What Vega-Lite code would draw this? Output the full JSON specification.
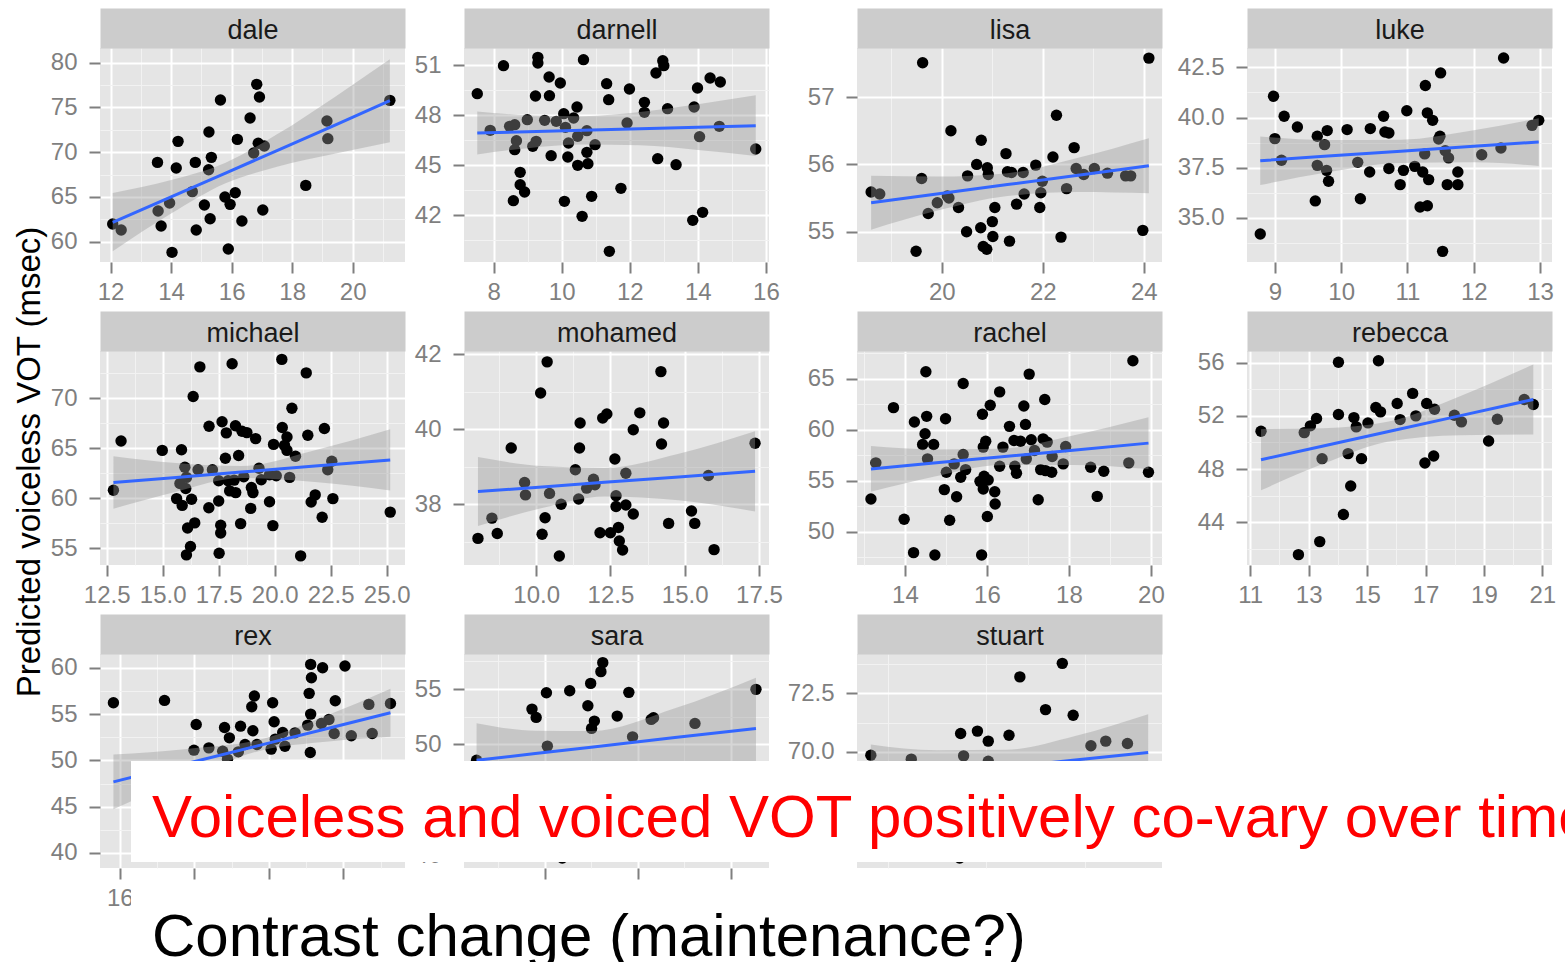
{
  "$schema": "https://vega.github.io/schema/vega-lite/v6.json",
  "usermeta": {"embedOptions": {"actions": false}},
  "autosize": {"type": "none"},
  "padding": {"left": 100, "top": 48, "right": 1465, "bottom": 914},
  "background": "white",
  "title": {"text": "Predicted voiceless VOT (msec)", "orient": "left", "anchor": "middle", "offset": -23, "baseline": "alphabetic",
            "dx": 30, "font": "Liberation Sans", "fontSize": 33, "fontWeight": "normal", "color": "#000000"},
  "datasets": {
    "pts": [
      {"s":"dale","x":12.07,"y":61.97},{"s":"dale","x":12.35,"y":61.3},{"s":"dale","x":13.57,"y":63.43},{"s":"dale","x":13.55,"y":68.86},{"s":"dale","x":13.67,"y":61.75},{"s":"dale","x":13.95,"y":64.32},{"s":"dale","x":14.03,"y":58.81},{"s":"dale","x":14.17,"y":68.23},{"s":"dale","x":14.23,"y":71.21},{"s":"dale","x":14.7,"y":65.59},{"s":"dale","x":14.8,"y":68.86},{"s":"dale","x":14.83,"y":61.3},{"s":"dale","x":15.1,"y":64.1},{"s":"dale","x":15.24,"y":68.04},{"s":"dale","x":15.25,"y":72.25},{"s":"dale","x":15.29,"y":62.57},{"s":"dale","x":15.33,"y":69.42},{"s":"dale","x":15.63,"y":75.83},{"s":"dale","x":15.78,"y":65.0},{"s":"dale","x":15.89,"y":59.18},{"s":"dale","x":15.95,"y":64.17},{"s":"dale","x":16.12,"y":65.47},{"s":"dale","x":16.19,"y":71.43},{"s":"dale","x":16.34,"y":62.31},{"s":"dale","x":16.61,"y":73.82},{"s":"dale","x":16.73,"y":69.91},{"s":"dale","x":16.83,"y":77.58},{"s":"dale","x":16.92,"y":76.16},{"s":"dale","x":16.88,"y":70.99},{"s":"dale","x":17.08,"y":70.69},{"s":"dale","x":17.03,"y":63.54},{"s":"dale","x":18.45,"y":66.29},{"s":"dale","x":19.15,"y":73.48},{"s":"dale","x":19.18,"y":71.51},{"s":"dale","x":21.23,"y":75.79},
      {"s":"darnell","x":7.52,"y":49.3},{"s":"darnell","x":7.9,"y":47.1},{"s":"darnell","x":8.29,"y":50.98},{"s":"darnell","x":8.47,"y":47.34},{"s":"darnell","x":8.62,"y":47.44},{"s":"darnell","x":8.67,"y":46.48},{"s":"darnell","x":8.62,"y":45.94},{"s":"darnell","x":8.78,"y":44.58},{"s":"darnell","x":8.78,"y":43.84},{"s":"darnell","x":8.91,"y":43.4},{"s":"darnell","x":8.58,"y":42.88},{"s":"darnell","x":8.99,"y":47.74},{"s":"darnell","x":9.15,"y":46.14},{"s":"darnell","x":9.25,"y":46.44},{"s":"darnell","x":9.23,"y":49.16},{"s":"darnell","x":9.3,"y":51.48},{"s":"darnell","x":9.3,"y":51.14},{"s":"darnell","x":9.5,"y":47.7},{"s":"darnell","x":9.63,"y":50.3},{"s":"darnell","x":9.64,"y":49.18},{"s":"darnell","x":9.69,"y":45.58},{"s":"darnell","x":9.84,"y":47.64},{"s":"darnell","x":9.96,"y":49.94},{"s":"darnell","x":10.06,"y":48.1},{"s":"darnell","x":10.11,"y":47.28},{"s":"darnell","x":10.08,"y":42.84},{"s":"darnell","x":10.18,"y":45.5},{"s":"darnell","x":10.2,"y":46.34},{"s":"darnell","x":10.35,"y":47.84},{"s":"darnell","x":10.45,"y":48.5},{"s":"darnell","x":10.47,"y":46.74},{"s":"darnell","x":10.47,"y":45.0},{"s":"darnell","x":10.64,"y":51.34},{"s":"darnell","x":10.6,"y":41.94},{"s":"darnell","x":10.74,"y":47.08},{"s":"darnell","x":10.74,"y":45.78},{"s":"darnell","x":10.77,"y":45.1},{"s":"darnell","x":10.88,"y":43.14},{"s":"darnell","x":10.98,"y":46.24},{"s":"darnell","x":11.32,"y":49.9},{"s":"darnell","x":11.38,"y":48.94},{"s":"darnell","x":11.4,"y":39.84},{"s":"darnell","x":11.74,"y":43.62},{"s":"darnell","x":11.92,"y":47.54},{"s":"darnell","x":11.99,"y":49.58},{"s":"darnell","x":12.43,"y":48.78},{"s":"darnell","x":12.43,"y":48.18},{"s":"darnell","x":12.77,"y":50.54},{"s":"darnell","x":12.82,"y":45.4},{"s":"darnell","x":12.97,"y":51.28},{"s":"darnell","x":13.0,"y":50.98},{"s":"darnell","x":13.11,"y":48.4},{"s":"darnell","x":13.36,"y":45.04},{"s":"darnell","x":13.85,"y":41.7},{"s":"darnell","x":13.89,"y":48.5},{"s":"darnell","x":13.99,"y":49.64},{"s":"darnell","x":14.05,"y":46.72},{"s":"darnell","x":14.14,"y":42.18},{"s":"darnell","x":14.36,"y":50.24},{"s":"darnell","x":14.63,"y":47.34},{"s":"darnell","x":14.66,"y":50.0},{"s":"darnell","x":15.7,"y":45.98},
      {"s":"lisa","x":18.6,"y":55.59},{"s":"lisa","x":18.77,"y":55.56},{"s":"lisa","x":19.62,"y":57.51},{"s":"lisa","x":19.6,"y":55.79},{"s":"lisa","x":19.49,"y":54.71},{"s":"lisa","x":19.73,"y":55.27},{"s":"lisa","x":19.91,"y":55.43},{"s":"lisa","x":20.11,"y":55.53},{"s":"lisa","x":20.14,"y":55.5},{"s":"lisa","x":20.18,"y":56.5},{"s":"lisa","x":20.33,"y":55.36},{"s":"lisa","x":20.49,"y":55.0},{"s":"lisa","x":20.51,"y":55.83},{"s":"lisa","x":20.69,"y":56.0},{"s":"lisa","x":20.77,"y":55.06},{"s":"lisa","x":20.78,"y":56.36},{"s":"lisa","x":20.82,"y":54.78},{"s":"lisa","x":20.89,"y":54.74},{"s":"lisa","x":20.9,"y":55.95},{"s":"lisa","x":20.92,"y":55.85},{"s":"lisa","x":21.0,"y":55.15},{"s":"lisa","x":21.01,"y":54.93},{"s":"lisa","x":21.05,"y":55.36},{"s":"lisa","x":21.27,"y":56.16},{"s":"lisa","x":21.3,"y":55.89},{"s":"lisa","x":21.34,"y":54.86},{"s":"lisa","x":21.38,"y":55.88},{"s":"lisa","x":21.48,"y":55.41},{"s":"lisa","x":21.61,"y":55.88},{"s":"lisa","x":21.63,"y":55.56},{"s":"lisa","x":21.86,"y":55.99},{"s":"lisa","x":21.94,"y":55.36},{"s":"lisa","x":21.99,"y":55.75},{"s":"lisa","x":21.96,"y":55.58},{"s":"lisa","x":22.2,"y":56.11},{"s":"lisa","x":22.27,"y":56.73},{"s":"lisa","x":22.36,"y":54.92},{"s":"lisa","x":22.47,"y":55.64},{"s":"lisa","x":22.62,"y":56.25},{"s":"lisa","x":22.66,"y":55.94},{"s":"lisa","x":22.81,"y":55.85},{"s":"lisa","x":23.02,"y":55.94},{"s":"lisa","x":23.28,"y":55.87},{"s":"lisa","x":23.64,"y":55.83},{"s":"lisa","x":23.74,"y":55.83},{"s":"lisa","x":23.98,"y":55.02},{"s":"lisa","x":24.1,"y":57.58},
      {"s":"luke","x":8.78,"y":34.2},{"s":"luke","x":8.98,"y":41.06},{"s":"luke","x":9.0,"y":38.95},{"s":"luke","x":9.1,"y":37.87},{"s":"luke","x":9.14,"y":40.06},{"s":"luke","x":9.34,"y":39.53},{"s":"luke","x":9.61,"y":35.85},{"s":"luke","x":9.64,"y":39.07},{"s":"luke","x":9.64,"y":37.62},{"s":"luke","x":9.75,"y":38.65},{"s":"luke","x":9.79,"y":39.35},{"s":"luke","x":9.78,"y":37.37},{"s":"luke","x":9.81,"y":36.83},{"s":"luke","x":10.09,"y":39.4},{"s":"luke","x":10.25,"y":37.77},{"s":"luke","x":10.29,"y":35.96},{"s":"luke","x":10.44,"y":39.45},{"s":"luke","x":10.43,"y":37.29},{"s":"luke","x":10.64,"y":40.06},{"s":"luke","x":10.66,"y":39.28},{"s":"luke","x":10.72,"y":39.23},{"s":"luke","x":10.72,"y":37.46},{"s":"luke","x":10.89,"y":36.66},{"s":"luke","x":10.94,"y":37.37},{"s":"luke","x":10.99,"y":40.34},{"s":"luke","x":11.11,"y":37.57},{"s":"luke","x":11.23,"y":37.29},{"s":"luke","x":11.19,"y":35.55},{"s":"luke","x":11.3,"y":35.61},{"s":"luke","x":11.26,"y":38.19},{"s":"luke","x":11.27,"y":41.59},{"s":"luke","x":11.3,"y":40.23},{"s":"luke","x":11.32,"y":36.91},{"s":"luke","x":11.38,"y":39.86},{"s":"luke","x":11.5,"y":42.22},{"s":"luke","x":11.49,"y":39.07},{"s":"luke","x":11.47,"y":38.93},{"s":"luke","x":11.57,"y":38.35},{"s":"luke","x":11.62,"y":37.99},{"s":"luke","x":11.6,"y":36.66},{"s":"luke","x":11.53,"y":33.34},{"s":"luke","x":11.76,"y":37.29},{"s":"luke","x":11.76,"y":36.66},{"s":"luke","x":12.12,"y":38.15},{"s":"luke","x":12.41,"y":38.48},{"s":"luke","x":12.45,"y":42.96},{"s":"luke","x":12.88,"y":39.61},{"s":"luke","x":12.98,"y":39.86},
      {"s":"michael","x":12.8,"y":60.8},{"s":"michael","x":13.14,"y":65.72},{"s":"michael","x":14.98,"y":64.78},{"s":"michael","x":15.84,"y":64.84},{"s":"michael","x":15.62,"y":59.96},{"s":"michael","x":15.77,"y":61.47},{"s":"michael","x":15.87,"y":59.28},{"s":"michael","x":15.99,"y":63.09},{"s":"michael","x":16.03,"y":60.97},{"s":"michael","x":16.06,"y":62.08},{"s":"michael","x":16.11,"y":57.02},{"s":"michael","x":16.06,"y":54.33},{"s":"michael","x":16.24,"y":55.17},{"s":"michael","x":16.29,"y":59.89},{"s":"michael","x":16.36,"y":70.17},{"s":"michael","x":16.43,"y":57.53},{"s":"michael","x":16.58,"y":62.85},{"s":"michael","x":16.66,"y":73.13},{"s":"michael","x":17.06,"y":59.05},{"s":"michael","x":17.07,"y":67.2},{"s":"michael","x":17.22,"y":62.85},{"s":"michael","x":17.5,"y":59.72},{"s":"michael","x":17.5,"y":61.74},{"s":"michael","x":17.59,"y":57.29},{"s":"michael","x":17.59,"y":56.52},{"s":"michael","x":17.52,"y":54.5},{"s":"michael","x":17.65,"y":67.64},{"s":"michael","x":17.8,"y":64.0},{"s":"michael","x":17.84,"y":66.53},{"s":"michael","x":17.92,"y":61.74},{"s":"michael","x":17.99,"y":60.73},{"s":"michael","x":18.1,"y":73.44},{"s":"michael","x":18.19,"y":61.81},{"s":"michael","x":18.25,"y":67.24},{"s":"michael","x":18.26,"y":60.56},{"s":"michael","x":18.39,"y":64.27},{"s":"michael","x":18.48,"y":57.46},{"s":"michael","x":18.54,"y":66.7},{"s":"michael","x":18.62,"y":62.15},{"s":"michael","x":18.76,"y":66.56},{"s":"michael","x":18.96,"y":61.07},{"s":"michael","x":19.03,"y":60.56},{"s":"michael","x":18.93,"y":58.98},{"s":"michael","x":19.15,"y":65.96},{"s":"michael","x":19.3,"y":62.99},{"s":"michael","x":19.4,"y":61.84},{"s":"michael","x":19.77,"y":59.65},{"s":"michael","x":19.92,"y":57.26},{"s":"michael","x":19.95,"y":65.38},{"s":"michael","x":19.77,"y":62.35},{"s":"michael","x":20.07,"y":62.25},{"s":"michael","x":20.32,"y":73.88},{"s":"michael","x":20.34,"y":67.07},{"s":"michael","x":20.44,"y":65.28},{"s":"michael","x":20.55,"y":66.12},{"s":"michael","x":20.55,"y":64.78},{"s":"michael","x":20.67,"y":62.08},{"s":"michael","x":20.77,"y":68.99},{"s":"michael","x":20.93,"y":64.2},{"s":"michael","x":21.16,"y":54.23},{"s":"michael","x":21.41,"y":72.53},{"s":"michael","x":21.48,"y":66.29},{"s":"michael","x":21.63,"y":59.62},{"s":"michael","x":21.81,"y":60.33},{"s":"michael","x":22.12,"y":58.1},{"s":"michael","x":22.22,"y":66.97},{"s":"michael","x":22.37,"y":62.85},{"s":"michael","x":22.55,"y":63.7},{"s":"michael","x":22.6,"y":59.96},{"s":"michael","x":25.16,"y":58.61},
      {"s":"mohamed","x":8.04,"y":37.09},{"s":"mohamed","x":8.51,"y":37.63},{"s":"mohamed","x":8.69,"y":37.22},{"s":"mohamed","x":9.16,"y":39.5},{"s":"mohamed","x":9.61,"y":38.58},{"s":"mohamed","x":9.64,"y":38.25},{"s":"mohamed","x":10.15,"y":40.97},{"s":"mohamed","x":10.37,"y":41.8},{"s":"mohamed","x":10.2,"y":37.2},{"s":"mohamed","x":10.3,"y":37.64},{"s":"mohamed","x":10.45,"y":38.29},{"s":"mohamed","x":10.78,"y":36.62},{"s":"mohamed","x":10.84,"y":38.0},{"s":"mohamed","x":11.32,"y":38.92},{"s":"mohamed","x":11.43,"y":38.14},{"s":"mohamed","x":11.46,"y":39.5},{"s":"mohamed","x":11.48,"y":40.17},{"s":"mohamed","x":11.7,"y":38.43},{"s":"mohamed","x":11.93,"y":38.67},{"s":"mohamed","x":11.98,"y":38.52},{"s":"mohamed","x":12.15,"y":37.24},{"s":"mohamed","x":12.24,"y":40.3},{"s":"mohamed","x":12.38,"y":40.41},{"s":"mohamed","x":12.5,"y":37.24},{"s":"mohamed","x":12.65,"y":39.21},{"s":"mohamed","x":12.69,"y":38.23},{"s":"mohamed","x":12.69,"y":37.94},{"s":"mohamed","x":12.77,"y":37.38},{"s":"mohamed","x":12.8,"y":37.02},{"s":"mohamed","x":12.91,"y":36.78},{"s":"mohamed","x":13.02,"y":38.83},{"s":"mohamed","x":13.02,"y":37.98},{"s":"mohamed","x":13.27,"y":39.99},{"s":"mohamed","x":13.27,"y":37.74},{"s":"mohamed","x":13.49,"y":40.44},{"s":"mohamed","x":14.2,"y":41.54},{"s":"mohamed","x":14.22,"y":39.61},{"s":"mohamed","x":14.29,"y":40.17},{"s":"mohamed","x":14.46,"y":37.49},{"s":"mohamed","x":15.23,"y":37.82},{"s":"mohamed","x":15.34,"y":37.49},{"s":"mohamed","x":15.8,"y":38.77},{"s":"mohamed","x":15.99,"y":36.79},{"s":"mohamed","x":17.37,"y":39.63},
      {"s":"rachel","x":13.17,"y":53.21},{"s":"rachel","x":13.29,"y":56.75},{"s":"rachel","x":13.72,"y":62.15},{"s":"rachel","x":13.98,"y":51.24},{"s":"rachel","x":14.23,"y":60.74},{"s":"rachel","x":14.21,"y":47.97},{"s":"rachel","x":14.43,"y":58.55},{"s":"rachel","x":14.49,"y":59.6},{"s":"rachel","x":14.51,"y":65.66},{"s":"rachel","x":14.53,"y":61.3},{"s":"rachel","x":14.55,"y":57.14},{"s":"rachel","x":14.7,"y":58.55},{"s":"rachel","x":14.73,"y":47.74},{"s":"rachel","x":14.99,"y":61.07},{"s":"rachel","x":14.96,"y":54.13},{"s":"rachel","x":15.01,"y":55.83},{"s":"rachel","x":15.09,"y":51.14},{"s":"rachel","x":15.2,"y":56.65},{"s":"rachel","x":15.26,"y":53.44},{"s":"rachel","x":15.36,"y":55.34},{"s":"rachel","x":15.42,"y":64.51},{"s":"rachel","x":15.42,"y":57.56},{"s":"rachel","x":15.48,"y":56.09},{"s":"rachel","x":15.83,"y":54.94},{"s":"rachel","x":15.87,"y":47.74},{"s":"rachel","x":15.89,"y":61.5},{"s":"rachel","x":15.91,"y":58.29},{"s":"rachel","x":15.91,"y":54.19},{"s":"rachel","x":15.93,"y":55.44},{"s":"rachel","x":15.97,"y":58.87},{"s":"rachel","x":16.01,"y":51.51},{"s":"rachel","x":16.03,"y":55.08},{"s":"rachel","x":16.08,"y":62.38},{"s":"rachel","x":16.19,"y":53.93},{"s":"rachel","x":16.2,"y":52.72},{"s":"rachel","x":16.31,"y":56.42},{"s":"rachel","x":16.31,"y":63.69},{"s":"rachel","x":16.39,"y":58.29},{"s":"rachel","x":16.55,"y":60.32},{"s":"rachel","x":16.66,"y":58.94},{"s":"rachel","x":16.68,"y":56.42},{"s":"rachel","x":16.72,"y":55.73},{"s":"rachel","x":16.82,"y":58.87},{"s":"rachel","x":16.9,"y":62.31},{"s":"rachel","x":16.94,"y":60.51},{"s":"rachel","x":16.96,"y":57.14},{"s":"rachel","x":17.03,"y":65.43},{"s":"rachel","x":17.08,"y":59.01},{"s":"rachel","x":17.16,"y":57.96},{"s":"rachel","x":17.25,"y":53.14},{"s":"rachel","x":17.31,"y":56.09},{"s":"rachel","x":17.37,"y":59.1},{"s":"rachel","x":17.41,"y":62.94},{"s":"rachel","x":17.47,"y":58.78},{"s":"rachel","x":17.43,"y":55.99},{"s":"rachel","x":17.58,"y":55.83},{"s":"rachel","x":17.59,"y":57.37},{"s":"rachel","x":17.86,"y":56.65},{"s":"rachel","x":17.92,"y":58.35},{"s":"rachel","x":18.53,"y":56.32},{"s":"rachel","x":18.69,"y":53.47},{"s":"rachel","x":18.85,"y":55.93},{"s":"rachel","x":19.46,"y":56.75},{"s":"rachel","x":19.56,"y":66.74},{"s":"rachel","x":19.94,"y":55.83},
      {"s":"rebecca","x":11.37,"y":50.84},{"s":"rebecca","x":12.65,"y":41.56},{"s":"rebecca","x":12.85,"y":50.74},{"s":"rebecca","x":13.06,"y":51.25},{"s":"rebecca","x":13.27,"y":51.8},{"s":"rebecca","x":13.38,"y":42.54},{"s":"rebecca","x":13.46,"y":48.78},{"s":"rebecca","x":14.02,"y":56.03},{"s":"rebecca","x":14.02,"y":52.1},{"s":"rebecca","x":14.19,"y":44.58},{"s":"rebecca","x":14.35,"y":49.16},{"s":"rebecca","x":14.44,"y":46.72},{"s":"rebecca","x":14.55,"y":51.87},{"s":"rebecca","x":14.63,"y":51.17},{"s":"rebecca","x":14.81,"y":48.78},{"s":"rebecca","x":15.03,"y":51.47},{"s":"rebecca","x":15.3,"y":52.63},{"s":"rebecca","x":15.46,"y":52.3},{"s":"rebecca","x":15.39,"y":56.15},{"s":"rebecca","x":16.03,"y":52.93},{"s":"rebecca","x":16.13,"y":51.72},{"s":"rebecca","x":16.56,"y":53.69},{"s":"rebecca","x":16.67,"y":52.0},{"s":"rebecca","x":16.98,"y":48.45},{"s":"rebecca","x":17.04,"y":52.93},{"s":"rebecca","x":17.28,"y":48.98},{"s":"rebecca","x":17.31,"y":52.5},{"s":"rebecca","x":17.99,"y":52.05},{"s":"rebecca","x":18.23,"y":51.55},{"s":"rebecca","x":19.16,"y":50.11},{"s":"rebecca","x":19.46,"y":51.75},{"s":"rebecca","x":20.38,"y":53.23},{"s":"rebecca","x":20.69,"y":52.86},
      {"s":"rex","x":15.83,"y":56.22},{"s":"rex","x":17.2,"y":56.47},{"s":"rex","x":18.05,"y":53.87},{"s":"rex","x":17.99,"y":51.1},{"s":"rex","x":18.39,"y":51.35},{"s":"rex","x":18.76,"y":50.99},{"s":"rex","x":18.81,"y":53.55},{"s":"rex","x":18.94,"y":52.43},{"s":"rex","x":18.89,"y":50.13},{"s":"rex","x":19.18,"y":50.92},{"s":"rex","x":19.24,"y":53.69},{"s":"rex","x":19.36,"y":51.71},{"s":"rex","x":19.54,"y":55.78},{"s":"rex","x":19.57,"y":53.19},{"s":"rex","x":19.61,"y":56.94},{"s":"rex","x":19.68,"y":51.71},{"s":"rex","x":20.06,"y":51.21},{"s":"rex","x":20.1,"y":56.22},{"s":"rex","x":20.14,"y":54.16},{"s":"rex","x":20.17,"y":52.29},{"s":"rex","x":20.37,"y":53.01},{"s":"rex","x":20.43,"y":51.53},{"s":"rex","x":20.7,"y":52.97},{"s":"rex","x":21.04,"y":53.8},{"s":"rex","x":21.08,"y":57.23},{"s":"rex","x":21.11,"y":50.85},{"s":"rex","x":21.12,"y":60.36},{"s":"rex","x":21.14,"y":58.92},{"s":"rex","x":21.12,"y":54.99},{"s":"rex","x":21.41,"y":53.98},{"s":"rex","x":21.44,"y":60.0},{"s":"rex","x":21.61,"y":54.41},{"s":"rex","x":21.75,"y":52.9},{"s":"rex","x":21.78,"y":56.43},{"s":"rex","x":22.04,"y":60.18},{"s":"rex","x":22.21,"y":52.65},{"s":"rex","x":22.68,"y":56.04},{"s":"rex","x":22.77,"y":52.9},{"s":"rex","x":23.26,"y":56.14},{"s":"rex","x":18.88,"y":39.65},
      {"s":"sara","x":8.54,"y":48.58},{"s":"sara","x":9.73,"y":53.19},{"s":"sara","x":9.82,"y":52.44},{"s":"sara","x":10.04,"y":54.67},{"s":"sara","x":10.06,"y":49.85},{"s":"sara","x":10.54,"y":54.85},{"s":"sara","x":10.93,"y":53.49},{"s":"sara","x":10.99,"y":55.51},{"s":"sara","x":11.01,"y":51.45},{"s":"sara","x":11.07,"y":52.11},{"s":"sara","x":11.21,"y":56.57},{"s":"sara","x":11.25,"y":57.38},{"s":"sara","x":11.56,"y":52.56},{"s":"sara","x":11.81,"y":54.7},{"s":"sara","x":11.89,"y":50.69},{"s":"sara","x":12.29,"y":52.26},{"s":"sara","x":12.34,"y":52.41},{"s":"sara","x":13.23,"y":51.9},{"s":"sara","x":14.54,"y":54.97},{"s":"sara","x":10.38,"y":39.76},
      {"s":"stuart","x":15.33,"y":69.86},{"s":"stuart","x":15.74,"y":69.69},{"s":"stuart","x":16.24,"y":70.79},{"s":"stuart","x":16.27,"y":69.83},{"s":"stuart","x":16.41,"y":70.89},{"s":"stuart","x":16.52,"y":70.46},{"s":"stuart","x":16.52,"y":69.6},{"s":"stuart","x":16.73,"y":70.71},{"s":"stuart","x":16.84,"y":73.21},{"s":"stuart","x":17.1,"y":71.81},{"s":"stuart","x":17.27,"y":73.79},{"s":"stuart","x":17.38,"y":71.57},{"s":"stuart","x":17.56,"y":70.26},{"s":"stuart","x":17.71,"y":70.46},{"s":"stuart","x":17.93,"y":70.36},{"s":"stuart","x":16.23,"y":65.46},{"s":"stuart","x":17.53,"y":65.57}
    ],
    "fit": [
      {"s":"dale","x":12.07,"lo":58.94,"hi":65.44,"f":62.16},{"s":"dale","x":14.0,"lo":63.14,"hi":66.88,"f":65.01},{"s":"dale","x":15.8,"lo":66.52,"hi":68.82,"f":67.67},{"s":"dale","x":17.5,"lo":68.37,"hi":71.99,"f":70.18},{"s":"dale","x":19.4,"lo":69.83,"hi":76.15,"f":72.99},{"s":"dale","x":21.23,"lo":71.12,"hi":80.38,"f":75.75},
      {"s":"darnell","x":7.52,"lo":45.65,"hi":48.23,"f":46.94},{"s":"darnell","x":9.0,"lo":46.03,"hi":48.01,"f":47.02},{"s":"darnell","x":10.6,"lo":46.25,"hi":47.95,"f":47.1},{"s":"darnell","x":12.3,"lo":46.2,"hi":48.2,"f":47.2},{"s":"darnell","x":14.0,"lo":45.92,"hi":48.66,"f":47.29},{"s":"darnell","x":15.7,"lo":45.56,"hi":49.2,"f":47.38},
      {"s":"lisa","x":18.6,"lo":55.03,"hi":55.83,"f":55.43},{"s":"lisa","x":19.9,"lo":55.31,"hi":55.82,"f":55.56},{"s":"lisa","x":21.3,"lo":55.53,"hi":55.87,"f":55.7},{"s":"lisa","x":22.7,"lo":55.59,"hi":56.1,"f":55.84},{"s":"lisa","x":24.1,"lo":55.57,"hi":56.39,"f":55.98},
      {"s":"luke","x":8.78,"lo":36.64,"hi":39.06,"f":37.85},{"s":"luke","x":9.8,"lo":37.28,"hi":38.88,"f":38.08},{"s":"luke","x":10.9,"lo":37.74,"hi":38.9,"f":38.32},{"s":"luke","x":12.0,"lo":37.77,"hi":39.37,"f":38.57},{"s":"luke","x":12.98,"lo":37.59,"hi":39.97,"f":38.78},
      {"s":"michael","x":12.8,"lo":58.95,"hi":64.19,"f":61.57},{"s":"michael","x":15.6,"lo":60.65,"hi":63.51,"f":62.08},{"s":"michael","x":18.5,"lo":62.01,"hi":63.21,"f":62.61},{"s":"michael","x":21.8,"lo":61.62,"hi":64.8,"f":63.21},{"s":"michael","x":25.16,"lo":60.77,"hi":66.89,"f":63.83},
      {"s":"mohamed","x":8.04,"lo":37.42,"hi":39.26,"f":38.34},{"s":"mohamed","x":10.2,"lo":37.9,"hi":39.02,"f":38.46},{"s":"mohamed","x":12.3,"lo":38.21,"hi":38.97,"f":38.59},{"s":"mohamed","x":14.8,"lo":38.11,"hi":39.35,"f":38.73},{"s":"mohamed","x":17.37,"lo":37.81,"hi":39.95,"f":38.88},
      {"s":"rachel","x":13.17,"lo":53.93,"hi":58.39,"f":56.16},{"s":"rachel","x":14.7,"lo":55.4,"hi":58.06,"f":56.73},{"s":"rachel","x":16.3,"lo":56.52,"hi":58.12,"f":57.32},{"s":"rachel","x":18.1,"lo":56.55,"hi":59.43,"f":57.99},{"s":"rachel","x":19.94,"lo":56.14,"hi":61.22,"f":58.68},
      {"s":"rebecca","x":11.37,"lo":46.4,"hi":51.0,"f":48.7},{"s":"rebecca","x":13.5,"lo":48.39,"hi":51.07,"f":49.73},{"s":"rebecca","x":15.7,"lo":50.05,"hi":51.55,"f":50.8},{"s":"rebecca","x":18.2,"lo":50.55,"hi":53.49,"f":52.02},{"s":"rebecca","x":20.69,"lo":50.6,"hi":55.86,"f":53.23},
      {"s":"rex","x":15.83,"lo":44.73,"hi":50.63,"f":47.68},{"s":"rex","x":17.8,"lo":48.09,"hi":51.23,"f":49.66},{"s":"rex","x":19.8,"lo":51.07,"hi":52.27,"f":51.67},{"s":"rex","x":21.6,"lo":52.03,"hi":54.91,"f":53.47},{"s":"rex","x":23.26,"lo":52.55,"hi":57.73,"f":55.14},
      {"s":"sara","x":8.54,"lo":45.24,"hi":51.92,"f":48.58},{"s":"sara","x":9.8,"lo":47.12,"hi":51.24,"f":49.18},{"s":"sara","x":11.0,"lo":48.31,"hi":51.21,"f":49.76},{"s":"sara","x":12.8,"lo":47.98,"hi":53.26,"f":50.62},{"s":"sara","x":14.54,"lo":46.88,"hi":56.02,"f":51.45},
      {"s":"stuart","x":15.33,"lo":67.18,"hi":70.32,"f":68.75},{"s":"stuart","x":16.0,"lo":68.01,"hi":70.07,"f":69.04},{"s":"stuart","x":16.7,"lo":68.59,"hi":70.09,"f":69.34},{"s":"stuart","x":17.4,"lo":68.62,"hi":70.68,"f":69.65},{"s":"stuart","x":18.14,"lo":68.33,"hi":71.61,"f":69.97}
    ]
  },
  "columns": 1,
  "align": "none",
  "spacing": -150,
  "concat": [
    {
      "columns": 4,
      "align": "each",
      "bounds": "full",
      "spacing": {"row": 15, "column": 4},
      "concat": [
        {
          "width": 305, "height": 214,
          "resolve": {"axis": {"x": "independent", "y": "independent"}},
          "layer": [
            {"data": {"name": "pts"}, "transform": [{"filter": "datum.s == 'dale'"}],
             "mark": {"type": "circle", "size": 130, "color": "#000000", "opacity": 1},
             "encoding": {
               "x": {"field": "x", "type": "quantitative", "scale": {"domain": [11.65, 21.73], "nice": false, "zero": false},
                     "axis": {"orient": "bottom", "title": null, "values": [12,13,14,15,16,17,18,19,20,21], "format": "d",
                              "labelExpr": "datum.value % 2 != 0 ? '' : datum.label",
                              "tickOpacity": {"condition": {"test": "datum.value % 2 != 0", "value": 0}, "value": 1},
                              "gridWidth": {"condition": {"test": "datum.value % 2 != 0", "value": 1}, "value": 2},
                              "gridColor": {"condition": {"test": "datum.value % 2 != 0", "value": "#F2F2F2"}, "value": "#FFFFFF"}}},
               "y": {"field": "y", "type": "quantitative", "scale": {"domain": [57.73, 81.64], "nice": false, "zero": false},
                     "axis": {"orient": "left", "title": null, "values": [60,62.5,65,67.5,70,72.5,75,77.5,80], "format": "d",
                              "labelExpr": "datum.value % 5 != 0 ? '' : datum.label",
                              "tickOpacity": {"condition": {"test": "datum.value % 5 != 0", "value": 0}, "value": 1},
                              "gridWidth": {"condition": {"test": "datum.value % 5 != 0", "value": 1}, "value": 2},
                              "gridColor": {"condition": {"test": "datum.value % 5 != 0", "value": "#F2F2F2"}, "value": "#FFFFFF"}}}
             }},
            {"data": {"name": "fit"}, "transform": [{"filter": "datum.s == 'dale'"}],
             "mark": {"type": "area", "color": "#999999", "opacity": 0.4, "interpolate": "monotone"},
             "encoding": {"x": {"field": "x", "type": "quantitative", "axis": {"orient": "top", "title": "dale"}},
                          "y": {"field": "lo", "type": "quantitative", "axis": null}, "y2": {"field": "hi"}}},
            {"data": {"name": "fit"}, "transform": [{"filter": "datum.s == 'dale'"}],
             "mark": {"type": "line", "color": "#3366FF", "strokeWidth": 3},
             "encoding": {"x": {"field": "x", "type": "quantitative", "axis": null},
                          "y": {"field": "f", "type": "quantitative", "axis": null}}}
          ]
        },
        {
          "width": 305, "height": 214,
          "resolve": {"axis": {"x": "independent", "y": "independent"}},
          "layer": [
            {"data": {"name": "pts"}, "transform": [{"filter": "datum.s == 'darnell'"}],
             "mark": {"type": "circle", "size": 130, "color": "#000000", "opacity": 1},
             "encoding": {
               "x": {"field": "x", "type": "quantitative", "scale": {"domain": [7.13, 16.09], "nice": false, "zero": false},
                     "axis": {"orient": "bottom", "title": null, "values": [8,9,10,11,12,13,14,15,16], "format": "d",
                              "labelExpr": "datum.value % 2 != 0 ? '' : datum.label",
                              "tickOpacity": {"condition": {"test": "datum.value % 2 != 0", "value": 0}, "value": 1},
                              "gridWidth": {"condition": {"test": "datum.value % 2 != 0", "value": 1}, "value": 2},
                              "gridColor": {"condition": {"test": "datum.value % 2 != 0", "value": "#F2F2F2"}, "value": "#FFFFFF"}}},
               "y": {"field": "y", "type": "quantitative", "scale": {"domain": [39.2, 52.04], "nice": false, "zero": false},
                     "axis": {"orient": "left", "title": null, "values": [40.5,42,43.5,45,46.5,48,49.5,51], "format": "d",
                              "labelExpr": "datum.value % 3 != 0 ? '' : datum.label",
                              "tickOpacity": {"condition": {"test": "datum.value % 3 != 0", "value": 0}, "value": 1},
                              "gridWidth": {"condition": {"test": "datum.value % 3 != 0", "value": 1}, "value": 2},
                              "gridColor": {"condition": {"test": "datum.value % 3 != 0", "value": "#F2F2F2"}, "value": "#FFFFFF"}}}
             }},
            {"data": {"name": "fit"}, "transform": [{"filter": "datum.s == 'darnell'"}],
             "mark": {"type": "area", "color": "#999999", "opacity": 0.4, "interpolate": "monotone"},
             "encoding": {"x": {"field": "x", "type": "quantitative", "axis": {"orient": "top", "title": "darnell"}},
                          "y": {"field": "lo", "type": "quantitative", "axis": null}, "y2": {"field": "hi"}}},
            {"data": {"name": "fit"}, "transform": [{"filter": "datum.s == 'darnell'"}],
             "mark": {"type": "line", "color": "#3366FF", "strokeWidth": 3},
             "encoding": {"x": {"field": "x", "type": "quantitative", "axis": null},
                          "y": {"field": "f", "type": "quantitative", "axis": null}}}
          ]
        },
        {
          "width": 305, "height": 214,
          "resolve": {"axis": {"x": "independent", "y": "independent"}},
          "layer": [
            {"data": {"name": "pts"}, "transform": [{"filter": "datum.s == 'lisa'"}],
             "mark": {"type": "circle", "size": 130, "color": "#000000", "opacity": 1},
             "encoding": {
               "x": {"field": "x", "type": "quantitative", "scale": {"domain": [18.32, 24.36], "nice": false, "zero": false},
                     "axis": {"orient": "bottom", "title": null, "values": [19,20,21,22,23,24], "format": "d",
                              "labelExpr": "datum.value % 2 != 0 ? '' : datum.label",
                              "tickOpacity": {"condition": {"test": "datum.value % 2 != 0", "value": 0}, "value": 1},
                              "gridWidth": {"condition": {"test": "datum.value % 2 != 0", "value": 1}, "value": 2},
                              "gridColor": {"condition": {"test": "datum.value % 2 != 0", "value": "#F2F2F2"}, "value": "#FFFFFF"}}},
               "y": {"field": "y", "type": "quantitative", "scale": {"domain": [54.55, 57.73], "nice": false, "zero": false},
                     "axis": {"orient": "left", "title": null, "values": [55,55.5,56,56.5,57,57.5], "format": "d",
                              "labelExpr": "datum.value % 1 != 0 ? '' : datum.label",
                              "tickOpacity": {"condition": {"test": "datum.value % 1 != 0", "value": 0}, "value": 1},
                              "gridWidth": {"condition": {"test": "datum.value % 1 != 0", "value": 1}, "value": 2},
                              "gridColor": {"condition": {"test": "datum.value % 1 != 0", "value": "#F2F2F2"}, "value": "#FFFFFF"}}}
             }},
            {"data": {"name": "fit"}, "transform": [{"filter": "datum.s == 'lisa'"}],
             "mark": {"type": "area", "color": "#999999", "opacity": 0.4, "interpolate": "monotone"},
             "encoding": {"x": {"field": "x", "type": "quantitative", "axis": {"orient": "top", "title": "lisa"}},
                          "y": {"field": "lo", "type": "quantitative", "axis": null}, "y2": {"field": "hi"}}},
            {"data": {"name": "fit"}, "transform": [{"filter": "datum.s == 'lisa'"}],
             "mark": {"type": "line", "color": "#3366FF", "strokeWidth": 3},
             "encoding": {"x": {"field": "x", "type": "quantitative", "axis": null},
                          "y": {"field": "f", "type": "quantitative", "axis": null}}}
          ]
        },
        {
          "width": 305, "height": 214,
          "resolve": {"axis": {"x": "independent", "y": "independent"}},
          "layer": [
            {"data": {"name": "pts"}, "transform": [{"filter": "datum.s == 'luke'"}],
             "mark": {"type": "circle", "size": 130, "color": "#000000", "opacity": 1},
             "encoding": {
               "x": {"field": "x", "type": "quantitative", "scale": {"domain": [8.58, 13.18], "nice": false, "zero": false},
                     "axis": {"orient": "bottom", "title": null, "values": [9,9.5,10,10.5,11,11.5,12,12.5,13], "format": "d",
                              "labelExpr": "datum.value % 1 != 0 ? '' : datum.label",
                              "tickOpacity": {"condition": {"test": "datum.value % 1 != 0", "value": 0}, "value": 1},
                              "gridWidth": {"condition": {"test": "datum.value % 1 != 0", "value": 1}, "value": 2},
                              "gridColor": {"condition": {"test": "datum.value % 1 != 0", "value": "#F2F2F2"}, "value": "#FFFFFF"}}},
               "y": {"field": "y", "type": "quantitative", "scale": {"domain": [32.81, 43.46], "nice": false, "zero": false},
                     "axis": {"orient": "left", "title": null, "minExtent": 78, "values": [33.75,35,36.25,37.5,38.75,40,41.25,42.5], "format": ".1f",
                              "labelExpr": "datum.value % 2.5 != 0 ? '' : datum.label",
                              "tickOpacity": {"condition": {"test": "datum.value % 2.5 != 0", "value": 0}, "value": 1},
                              "gridWidth": {"condition": {"test": "datum.value % 2.5 != 0", "value": 1}, "value": 2},
                              "gridColor": {"condition": {"test": "datum.value % 2.5 != 0", "value": "#F2F2F2"}, "value": "#FFFFFF"}}}
             }},
            {"data": {"name": "fit"}, "transform": [{"filter": "datum.s == 'luke'"}],
             "mark": {"type": "area", "color": "#999999", "opacity": 0.4, "interpolate": "monotone"},
             "encoding": {"x": {"field": "x", "type": "quantitative", "axis": {"orient": "top", "title": "luke"}},
                          "y": {"field": "lo", "type": "quantitative", "axis": null}, "y2": {"field": "hi"}}},
            {"data": {"name": "fit"}, "transform": [{"filter": "datum.s == 'luke'"}],
             "mark": {"type": "line", "color": "#3366FF", "strokeWidth": 3},
             "encoding": {"x": {"field": "x", "type": "quantitative", "axis": null},
                          "y": {"field": "f", "type": "quantitative", "axis": null}}}
          ]
        },
        {
          "width": 305, "height": 214,
          "resolve": {"axis": {"x": "independent", "y": "independent"}},
          "layer": [
            {"data": {"name": "pts"}, "transform": [{"filter": "datum.s == 'michael'"}],
             "mark": {"type": "circle", "size": 130, "color": "#000000", "opacity": 1},
             "encoding": {
               "x": {"field": "x", "type": "quantitative", "scale": {"domain": [12.2, 25.82], "nice": false, "zero": false},
                     "axis": {"orient": "bottom", "title": null, "values": [12.5,13.75,15,16.25,17.5,18.75,20,21.25,22.5,23.75,25], "format": ".1f",
                              "labelExpr": "datum.value % 2.5 != 0 ? '' : datum.label",
                              "tickOpacity": {"condition": {"test": "datum.value % 2.5 != 0", "value": 0}, "value": 1},
                              "gridWidth": {"condition": {"test": "datum.value % 2.5 != 0", "value": 1}, "value": 2},
                              "gridColor": {"condition": {"test": "datum.value % 2.5 != 0", "value": "#F2F2F2"}, "value": "#FFFFFF"}}},
               "y": {"field": "y", "type": "quantitative", "scale": {"domain": [53.32, 74.72], "nice": false, "zero": false},
                     "axis": {"orient": "left", "title": null, "values": [55,57.5,60,62.5,65,67.5,70,72.5], "format": "d",
                              "labelExpr": "datum.value % 5 != 0 ? '' : datum.label",
                              "tickOpacity": {"condition": {"test": "datum.value % 5 != 0", "value": 0}, "value": 1},
                              "gridWidth": {"condition": {"test": "datum.value % 5 != 0", "value": 1}, "value": 2},
                              "gridColor": {"condition": {"test": "datum.value % 5 != 0", "value": "#F2F2F2"}, "value": "#FFFFFF"}}}
             }},
            {"data": {"name": "fit"}, "transform": [{"filter": "datum.s == 'michael'"}],
             "mark": {"type": "area", "color": "#999999", "opacity": 0.4, "interpolate": "monotone"},
             "encoding": {"x": {"field": "x", "type": "quantitative", "axis": {"orient": "top", "title": "michael"}},
                          "y": {"field": "lo", "type": "quantitative", "axis": null}, "y2": {"field": "hi"}}},
            {"data": {"name": "fit"}, "transform": [{"filter": "datum.s == 'michael'"}],
             "mark": {"type": "line", "color": "#3366FF", "strokeWidth": 3},
             "encoding": {"x": {"field": "x", "type": "quantitative", "axis": null},
                          "y": {"field": "f", "type": "quantitative", "axis": null}}}
          ]
        },
        {
          "width": 305, "height": 214,
          "resolve": {"axis": {"x": "independent", "y": "independent"}},
          "layer": [
            {"data": {"name": "pts"}, "transform": [{"filter": "datum.s == 'mohamed'"}],
             "mark": {"type": "circle", "size": 130, "color": "#000000", "opacity": 1},
             "encoding": {
               "x": {"field": "x", "type": "quantitative", "scale": {"domain": [7.57, 17.84], "nice": false, "zero": false},
                     "axis": {"orient": "bottom", "title": null, "values": [8.75,10,11.25,12.5,13.75,15,16.25,17.5], "format": ".1f",
                              "labelExpr": "datum.value % 2.5 != 0 ? '' : datum.label",
                              "tickOpacity": {"condition": {"test": "datum.value % 2.5 != 0", "value": 0}, "value": 1},
                              "gridWidth": {"condition": {"test": "datum.value % 2.5 != 0", "value": 1}, "value": 2},
                              "gridColor": {"condition": {"test": "datum.value % 2.5 != 0", "value": "#F2F2F2"}, "value": "#FFFFFF"}}},
               "y": {"field": "y", "type": "quantitative", "scale": {"domain": [36.38, 42.09], "nice": false, "zero": false},
                     "axis": {"orient": "left", "title": null, "values": [37,38,39,40,41,42], "format": "d",
                              "labelExpr": "datum.value % 2 != 0 ? '' : datum.label",
                              "tickOpacity": {"condition": {"test": "datum.value % 2 != 0", "value": 0}, "value": 1},
                              "gridWidth": {"condition": {"test": "datum.value % 2 != 0", "value": 1}, "value": 2},
                              "gridColor": {"condition": {"test": "datum.value % 2 != 0", "value": "#F2F2F2"}, "value": "#FFFFFF"}}}
             }},
            {"data": {"name": "fit"}, "transform": [{"filter": "datum.s == 'mohamed'"}],
             "mark": {"type": "area", "color": "#999999", "opacity": 0.4, "interpolate": "monotone"},
             "encoding": {"x": {"field": "x", "type": "quantitative", "axis": {"orient": "top", "title": "mohamed"}},
                          "y": {"field": "lo", "type": "quantitative", "axis": null}, "y2": {"field": "hi"}}},
            {"data": {"name": "fit"}, "transform": [{"filter": "datum.s == 'mohamed'"}],
             "mark": {"type": "line", "color": "#3366FF", "strokeWidth": 3},
             "encoding": {"x": {"field": "x", "type": "quantitative", "axis": null},
                          "y": {"field": "f", "type": "quantitative", "axis": null}}}
          ]
        },
        {
          "width": 305, "height": 214,
          "resolve": {"axis": {"x": "independent", "y": "independent"}},
          "layer": [
            {"data": {"name": "pts"}, "transform": [{"filter": "datum.s == 'rachel'"}],
             "mark": {"type": "circle", "size": 130, "color": "#000000", "opacity": 1},
             "encoding": {
               "x": {"field": "x", "type": "quantitative", "scale": {"domain": [12.83, 20.27], "nice": false, "zero": false},
                     "axis": {"orient": "bottom", "title": null, "values": [13,14,15,16,17,18,19,20], "format": "d",
                              "labelExpr": "datum.value % 2 != 0 ? '' : datum.label",
                              "tickOpacity": {"condition": {"test": "datum.value % 2 != 0", "value": 0}, "value": 1},
                              "gridWidth": {"condition": {"test": "datum.value % 2 != 0", "value": 1}, "value": 2},
                              "gridColor": {"condition": {"test": "datum.value % 2 != 0", "value": "#F2F2F2"}, "value": "#FFFFFF"}}},
               "y": {"field": "y", "type": "quantitative", "scale": {"domain": [46.76, 67.69], "nice": false, "zero": false},
                     "axis": {"orient": "left", "title": null, "values": [47.5,50,52.5,55,57.5,60,62.5,65,67.5], "format": "d",
                              "labelExpr": "datum.value % 5 != 0 ? '' : datum.label",
                              "tickOpacity": {"condition": {"test": "datum.value % 5 != 0", "value": 0}, "value": 1},
                              "gridWidth": {"condition": {"test": "datum.value % 5 != 0", "value": 1}, "value": 2},
                              "gridColor": {"condition": {"test": "datum.value % 5 != 0", "value": "#F2F2F2"}, "value": "#FFFFFF"}}}
             }},
            {"data": {"name": "fit"}, "transform": [{"filter": "datum.s == 'rachel'"}],
             "mark": {"type": "area", "color": "#999999", "opacity": 0.4, "interpolate": "monotone"},
             "encoding": {"x": {"field": "x", "type": "quantitative", "axis": {"orient": "top", "title": "rachel"}},
                          "y": {"field": "lo", "type": "quantitative", "axis": null}, "y2": {"field": "hi"}}},
            {"data": {"name": "fit"}, "transform": [{"filter": "datum.s == 'rachel'"}],
             "mark": {"type": "line", "color": "#3366FF", "strokeWidth": 3},
             "encoding": {"x": {"field": "x", "type": "quantitative", "axis": null},
                          "y": {"field": "f", "type": "quantitative", "axis": null}}}
          ]
        },
        {
          "width": 305, "height": 214,
          "resolve": {"axis": {"x": "independent", "y": "independent"}},
          "layer": [
            {"data": {"name": "pts"}, "transform": [{"filter": "datum.s == 'rebecca'"}],
             "mark": {"type": "circle", "size": 130, "color": "#000000", "opacity": 1},
             "encoding": {
               "x": {"field": "x", "type": "quantitative", "scale": {"domain": [10.89, 21.33], "nice": false, "zero": false},
                     "axis": {"orient": "bottom", "title": null, "values": [11,12,13,14,15,16,17,18,19,20,21], "format": "d",
                              "labelExpr": "datum.value % 2 == 0 ? '' : datum.label",
                              "tickOpacity": {"condition": {"test": "datum.value % 2 == 0", "value": 0}, "value": 1},
                              "gridWidth": {"condition": {"test": "datum.value % 2 == 0", "value": 1}, "value": 2},
                              "gridColor": {"condition": {"test": "datum.value % 2 == 0", "value": "#F2F2F2"}, "value": "#FFFFFF"}}},
               "y": {"field": "y", "type": "quantitative", "scale": {"domain": [40.78, 56.88], "nice": false, "zero": false},
                     "axis": {"orient": "left", "title": null, "minExtent": 78, "values": [42,44,46,48,50,52,54,56], "format": "d",
                              "labelExpr": "datum.value % 4 != 0 ? '' : datum.label",
                              "tickOpacity": {"condition": {"test": "datum.value % 4 != 0", "value": 0}, "value": 1},
                              "gridWidth": {"condition": {"test": "datum.value % 4 != 0", "value": 1}, "value": 2},
                              "gridColor": {"condition": {"test": "datum.value % 4 != 0", "value": "#F2F2F2"}, "value": "#FFFFFF"}}}
             }},
            {"data": {"name": "fit"}, "transform": [{"filter": "datum.s == 'rebecca'"}],
             "mark": {"type": "area", "color": "#999999", "opacity": 0.4, "interpolate": "monotone"},
             "encoding": {"x": {"field": "x", "type": "quantitative", "axis": {"orient": "top", "title": "rebecca"}},
                          "y": {"field": "lo", "type": "quantitative", "axis": null}, "y2": {"field": "hi"}}},
            {"data": {"name": "fit"}, "transform": [{"filter": "datum.s == 'rebecca'"}],
             "mark": {"type": "line", "color": "#3366FF", "strokeWidth": 3},
             "encoding": {"x": {"field": "x", "type": "quantitative", "axis": null},
                          "y": {"field": "f", "type": "quantitative", "axis": null}}}
          ]
        },
        {
          "width": 305, "height": 214,
          "resolve": {"axis": {"x": "independent", "y": "independent"}},
          "layer": [
            {"data": {"name": "pts"}, "transform": [{"filter": "datum.s == 'rex'"}],
             "mark": {"type": "circle", "size": 130, "color": "#000000", "opacity": 1},
             "encoding": {
               "x": {"field": "x", "type": "quantitative", "scale": {"domain": [15.47, 23.65], "nice": false, "zero": false},
                     "axis": {"orient": "bottom", "title": null, "values": [16,17,18,19,20,21,22,23], "format": "d",
                              "labelExpr": "datum.value % 2 != 0 ? '' : datum.label",
                              "tickOpacity": {"condition": {"test": "datum.value % 2 != 0", "value": 0}, "value": 1},
                              "gridWidth": {"condition": {"test": "datum.value % 2 != 0", "value": 1}, "value": 2},
                              "gridColor": {"condition": {"test": "datum.value % 2 != 0", "value": "#F2F2F2"}, "value": "#FFFFFF"}}},
               "y": {"field": "y", "type": "quantitative", "scale": {"domain": [38.38, 61.48], "nice": false, "zero": false},
                     "axis": {"orient": "left", "title": null, "values": [40,42.5,45,47.5,50,52.5,55,57.5,60], "format": "d",
                              "labelExpr": "datum.value % 5 != 0 ? '' : datum.label",
                              "tickOpacity": {"condition": {"test": "datum.value % 5 != 0", "value": 0}, "value": 1},
                              "gridWidth": {"condition": {"test": "datum.value % 5 != 0", "value": 1}, "value": 2},
                              "gridColor": {"condition": {"test": "datum.value % 5 != 0", "value": "#F2F2F2"}, "value": "#FFFFFF"}}}
             }},
            {"data": {"name": "fit"}, "transform": [{"filter": "datum.s == 'rex'"}],
             "mark": {"type": "area", "color": "#999999", "opacity": 0.4, "interpolate": "monotone"},
             "encoding": {"x": {"field": "x", "type": "quantitative", "axis": {"orient": "top", "title": "rex"}},
                          "y": {"field": "lo", "type": "quantitative", "axis": null}, "y2": {"field": "hi"}}},
            {"data": {"name": "fit"}, "transform": [{"filter": "datum.s == 'rex'"}],
             "mark": {"type": "line", "color": "#3366FF", "strokeWidth": 3},
             "encoding": {"x": {"field": "x", "type": "quantitative", "axis": null},
                          "y": {"field": "f", "type": "quantitative", "axis": null}}}
          ]
        },
        {
          "width": 305, "height": 214,
          "resolve": {"axis": {"x": "independent", "y": "independent"}},
          "layer": [
            {"data": {"name": "pts"}, "transform": [{"filter": "datum.s == 'sara'"}],
             "mark": {"type": "circle", "size": 130, "color": "#000000", "opacity": 1},
             "encoding": {
               "x": {"field": "x", "type": "quantitative", "scale": {"domain": [8.27, 14.82], "nice": false, "zero": false},
                     "axis": {"orient": "bottom", "title": null, "values": [9,10,11,12,13,14], "format": "d",
                              "labelExpr": "datum.value % 2 != 0 ? '' : datum.label",
                              "tickOpacity": {"condition": {"test": "datum.value % 2 != 0", "value": 0}, "value": 1},
                              "gridWidth": {"condition": {"test": "datum.value % 2 != 0", "value": 1}, "value": 2},
                              "gridColor": {"condition": {"test": "datum.value % 2 != 0", "value": "#F2F2F2"}, "value": "#FFFFFF"}}},
               "y": {"field": "y", "type": "quantitative", "scale": {"domain": [38.86, 58.16], "nice": false, "zero": false},
                     "axis": {"orient": "left", "title": null, "values": [40,42.5,45,47.5,50,52.5,55,57.5], "format": "d",
                              "labelExpr": "datum.value % 5 != 0 ? '' : datum.label",
                              "tickOpacity": {"condition": {"test": "datum.value % 5 != 0", "value": 0}, "value": 1},
                              "gridWidth": {"condition": {"test": "datum.value % 5 != 0", "value": 1}, "value": 2},
                              "gridColor": {"condition": {"test": "datum.value % 5 != 0", "value": "#F2F2F2"}, "value": "#FFFFFF"}}}
             }},
            {"data": {"name": "fit"}, "transform": [{"filter": "datum.s == 'sara'"}],
             "mark": {"type": "area", "color": "#999999", "opacity": 0.4, "interpolate": "monotone"},
             "encoding": {"x": {"field": "x", "type": "quantitative", "axis": {"orient": "top", "title": "sara"}},
                          "y": {"field": "lo", "type": "quantitative", "axis": null}, "y2": {"field": "hi"}}},
            {"data": {"name": "fit"}, "transform": [{"filter": "datum.s == 'sara'"}],
             "mark": {"type": "line", "color": "#3366FF", "strokeWidth": 3},
             "encoding": {"x": {"field": "x", "type": "quantitative", "axis": null},
                          "y": {"field": "f", "type": "quantitative", "axis": null}}}
          ]
        },
        {
          "width": 305, "height": 214,
          "resolve": {"axis": {"x": "independent", "y": "independent"}},
          "layer": [
            {"data": {"name": "pts"}, "transform": [{"filter": "datum.s == 'stuart'"}],
             "mark": {"type": "circle", "size": 130, "color": "#000000", "opacity": 1},
             "encoding": {
               "x": {"field": "x", "type": "quantitative", "scale": {"domain": [15.19, 18.28], "nice": false, "zero": false},
                     "axis": {"orient": "bottom", "title": null, "values": [15.5,16,16.5,17,17.5,18], "format": "d",
                              "labelExpr": "datum.value % 1 != 0 ? '' : datum.label",
                              "tickOpacity": {"condition": {"test": "datum.value % 1 != 0", "value": 0}, "value": 1},
                              "gridWidth": {"condition": {"test": "datum.value % 1 != 0", "value": 1}, "value": 2},
                              "gridColor": {"condition": {"test": "datum.value % 1 != 0", "value": "#F2F2F2"}, "value": "#FFFFFF"}}},
               "y": {"field": "y", "type": "quantitative", "scale": {"domain": [65.03, 74.19], "nice": false, "zero": false},
                     "axis": {"orient": "left", "title": null, "values": [66.25,67.5,68.75,70,71.25,72.5,73.75], "format": ".1f",
                              "labelExpr": "datum.value % 2.5 != 0 ? '' : datum.label",
                              "tickOpacity": {"condition": {"test": "datum.value % 2.5 != 0", "value": 0}, "value": 1},
                              "gridWidth": {"condition": {"test": "datum.value % 2.5 != 0", "value": 1}, "value": 2},
                              "gridColor": {"condition": {"test": "datum.value % 2.5 != 0", "value": "#F2F2F2"}, "value": "#FFFFFF"}}}
             }},
            {"data": {"name": "fit"}, "transform": [{"filter": "datum.s == 'stuart'"}],
             "mark": {"type": "area", "color": "#999999", "opacity": 0.4, "interpolate": "monotone"},
             "encoding": {"x": {"field": "x", "type": "quantitative", "axis": {"orient": "top", "title": "stuart"}},
                          "y": {"field": "lo", "type": "quantitative", "axis": null}, "y2": {"field": "hi"}}},
            {"data": {"name": "fit"}, "transform": [{"filter": "datum.s == 'stuart'"}],
             "mark": {"type": "line", "color": "#3366FF", "strokeWidth": 3},
             "encoding": {"x": {"field": "x", "type": "quantitative", "axis": null},
                          "y": {"field": "f", "type": "quantitative", "axis": null}}}
          ]
        }
      ]
    },
    {
      "spacing": 0,
      "hconcat": [
        {
          "width": 31, "height": 10,
          "view": {"fill": null, "stroke": null},
          "data": {"values": [{}]},
          "mark": "text",
          "encoding": {"text": {"value": ""}}
        },
        {
          "spacing": 18,
          "vconcat": [
            {
              "width": 1434, "height": 101,
              "view": {"fill": "#FFFFFF", "stroke": null},
              "data": {"values": [{}]},
              "mark": "text",
              "encoding": {"text": {"value": ""}},
              "title": {"text": "Voiceless and voiced VOT positively co-vary over time", "orient": "top", "anchor": "start", "frame": "group",
                        "offset": -136, "dx": 21, "baseline": "alphabetic", "font": "Liberation Sans", "fontSize": 60,
                        "fontWeight": "normal", "color": "#FF0000"}
            },
            {
              "width": 969, "height": 82,
              "view": {"fill": "#FFFFFF", "stroke": null},
              "data": {"values": [{}]},
              "mark": "text",
              "encoding": {"text": {"value": ""}},
              "title": {"text": "Contrast change (maintenance?)", "orient": "top", "anchor": "start", "frame": "group",
                        "offset": -136, "dx": 21, "baseline": "alphabetic", "font": "Liberation Sans", "fontSize": 60,
                        "fontWeight": "normal", "color": "#000000"}
            }
          ]
        }
      ]
    }
  ],
  "config": {
    "font": "Liberation Sans",
    "view": {"stroke": null, "fill": "#E5E5E5"},
    "scale": {"zero": false},
    "axis": {
      "domain": false,
      "labelFont": "Liberation Sans", "labelFontSize": 24, "labelColor": "#7F7F7F",
      "tickColor": "#7F7F7F", "tickWidth": 2, "tickSize": 11,
      "labelOverlap": false, "labelFlush": false, "labelBound": false,
      "gridColor": "#FFFFFF", "gridWidth": 2,
      "titleFont": "Liberation Sans", "titleFontWeight": "normal", "titleColor": "#000000"
    },
    "axisBottom": {"labelPadding": 7},
    "axisLeft": {"labelPadding": 12},
    "axisTop": {
      "offset": 20, "domain": true, "domainColor": "#CCCCCC", "domainWidth": 40, "domainCap": "butt",
      "ticks": false, "labels": false, "grid": false,
      "titleFontSize": 27, "titleColor": "#1A1A1A", "titleBaseline": "alphabetic", "titleY": 10
    }
  }
}
